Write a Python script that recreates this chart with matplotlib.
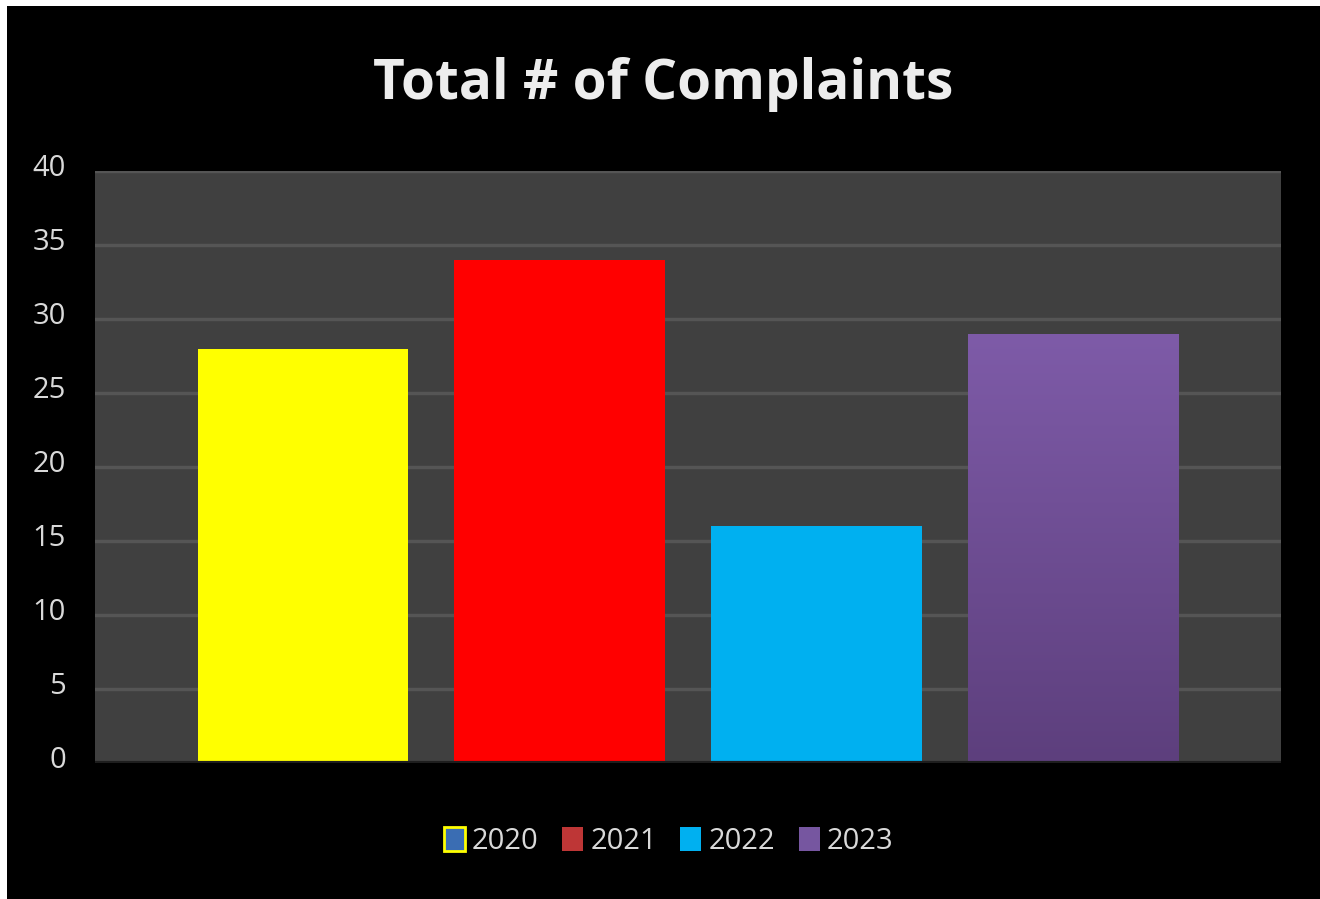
import numpy as np
import matplotlib
matplotlib.use("Agg")
import matplotlib.pyplot as plt
from matplotlib.patches import Patch, Rectangle
from matplotlib.colors import LinearSegmentedColormap
from matplotlib.transforms import ScaledTranslation

# Complaints per year
years = ["2020", "2021", "2022", "2023"]
complaints = [28, 34, 16, 29]
bar_colors = ["#FFFF00", "#FF0000", "#00B0F0", "#7B59A6"]
legend_colors = ["#3A6DB3", "#BE3636", "#00B0F0", "#7656A0"]
y_ticks = [0, 5, 10, 15, 20, 25, 30, 35, 40]

plt.rcParams["font.family"] = ["Open Sans", "DejaVu Sans"]

fig = plt.figure(figsize=(13.2, 8.99), dpi=100)
fig.patch.set_facecolor("white")
# black card with a thin white edge on the top and left
fig.patches.append(Rectangle((7 / 1320, 0), 1, 1 - 6 / 899, transform=fig.transFigure,
                             facecolor="black", edgecolor="none", zorder=-10))

ax = fig.add_axes([95 / 1320, (899 - 763) / 899, (1281 - 95) / 1320, (763 - 171) / 899])
ax.set_facecolor("#404040")

x = np.arange(len(years))
width = 0.82
bars = ax.bar(x, complaints, width=width, color=bar_colors, zorder=3)

# purple bar gets a vertical gradient
last = bars[3]
last.set_facecolor("none")
grad = LinearSegmentedColormap.from_list("purp", ["#5D3F7D", "#7E5BA8"])
img = ax.imshow(np.linspace(0, 1, 256).reshape(-1, 1), cmap=grad, origin="lower", aspect="auto",
                extent=[x[3] - width / 2, x[3] + width / 2, 0, complaints[3]], zorder=3)
img.set_clip_path(last)

ax.set_xlim(-0.81, 3.81)
ax.set_ylim(0, 40)
ax.set_yticks(y_ticks)
ax.set_xticks([])
ax.grid(axis="y", color="#555555", linewidth=2.5, zorder=1)
ax.axhline(0, color="#1E1E1E", linewidth=3, zorder=4)
for s in ax.spines.values():
    s.set_visible(False)
ax.tick_params(axis="y", length=0, pad=21, labelsize=21, labelcolor="#D9D9D9")
# numbers sit a little above their grid lines
lift = ScaledTranslation(0, 0.06, fig.dpi_scale_trans)
for lab in ax.get_yticklabels():
    lab.set_transform(lab.get_transform() + lift)

fig.text(0.5025, 0.890, "Total # of Complaints", ha="center", va="baseline",
         fontsize=39.5, fontweight="bold", color="#EDEDED")

handles = [Patch(facecolor=legend_colors[0], edgecolor="#FFFF00", linewidth=2)]
handles += [Patch(facecolor=c, edgecolor="none") for c in legend_colors[1:]]
leg = fig.legend(handles, years, loc="center", bbox_to_anchor=(0.5065, 0.064), ncol=4,
                 frameon=False, fontsize=21, labelcolor="#D9D9D9", handlelength=0.72,
                 handleheight=0.9, handletextpad=0.25, columnspacing=0.8)

fig.savefig("out.png", dpi=100, facecolor=fig.get_facecolor())
